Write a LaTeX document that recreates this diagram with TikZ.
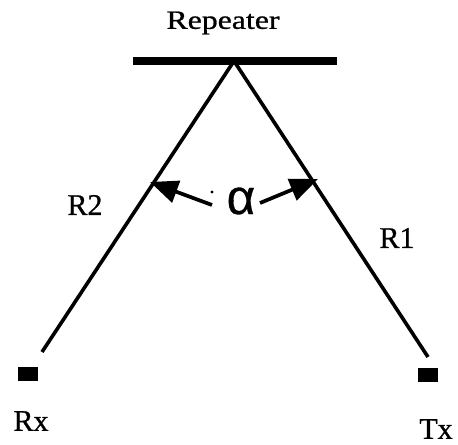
\documentclass[tikz,border=0pt]{standalone}
\usepackage{fontspec}
\setmainfont{Liberation Serif}[FakeBold=0.8]
\newfontfamily\greekfont{Liberation Sans}[FakeBold=0.6]
\usetikzlibrary{arrows.meta}
\begin{document}
\begin{tikzpicture}[x=0.75pt,y=-0.75pt,
  ray/.style={line width=2.7pt},
  bar/.style={line width=5.4pt},
  lbl/.style={font=\fontsize{22.5}{24}\selectfont, inner sep=0pt},
  angarrow/.style={line width=2.8pt, -{Triangle[length=21pt,width=17pt]}},
  term/.style={fill=black, draw=none, minimum width=15pt, minimum height=10.5pt, inner sep=0pt}]
\useasboundingbox (0,0) rectangle (458,445);
% repeater
\coordinate (barL) at (133,61);
\coordinate (barR) at (337,61);
\coordinate (apex) at (234,61);
\draw[bar] (barL) -- (barR);
\node[lbl, xscale=1.06, yscale=0.88] (rep) at (223,23) {Repeater};
% ray ends
\coordinate (endL) at (42,352);
\coordinate (endR) at (428,357);
\draw[ray] (apex) -- (endL);
\draw[ray] (apex) -- (endR);
% terminals
\node[term] (rxbox) at (28,374.5) {};
\node[term] (txbox) at (428,375.5) {};
\node[lbl] (rx) at (31,421) {Rx};
\node[lbl] (tx) at (436,429) {Tx};
% range labels
\node[lbl] (r2) at (85,205) {R2};
\node[lbl] (r1) at (397,238) {R1};
% angle
\node[inner sep=0pt, font=\greekfont\fontsize{37}{38}\selectfont] (alpha) at (241,201) {α};
\coordinate (tailL) at (212,205);
\coordinate (tipL) at (150,182);
\coordinate (tailR) at (260,203);
\coordinate (tipR) at (318,179);
\draw[angarrow] (tailL) -- (tipL);
\draw[angarrow] (tailR) -- (tipR);
\fill (212,192) circle (1.2pt);
\end{tikzpicture}
\end{document}
